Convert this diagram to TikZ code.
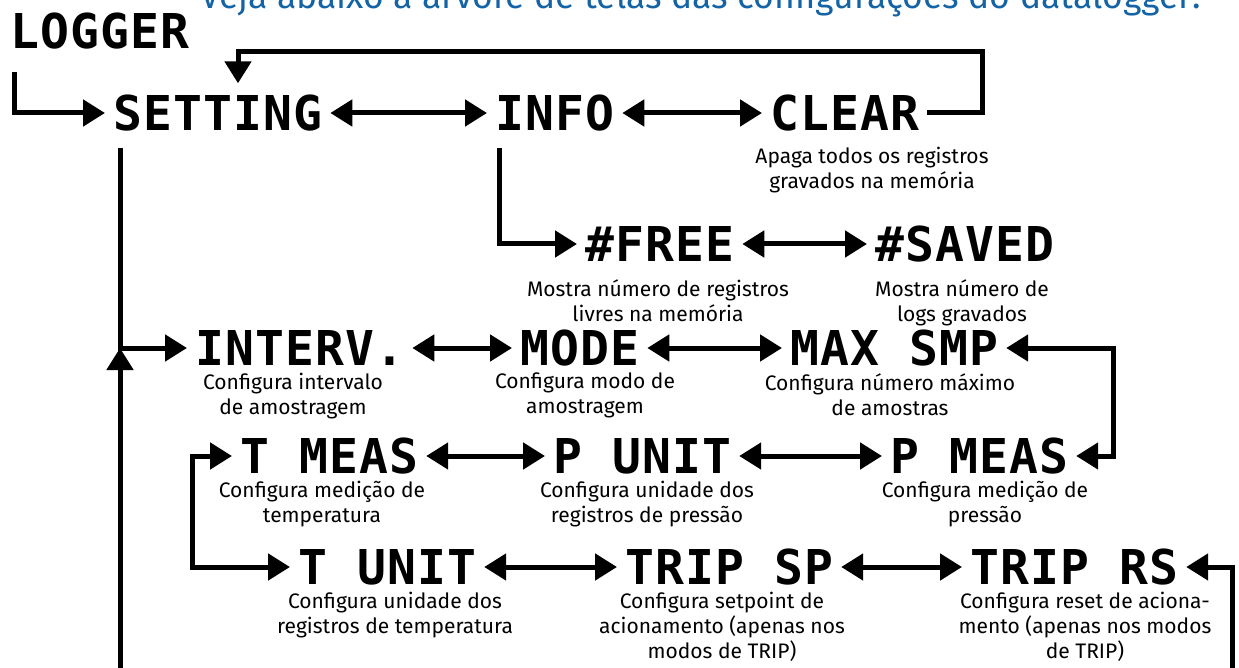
\documentclass[tikz,border=0pt]{standalone}
\usepackage{fontspec}
\usepackage{graphicx}
\setmainfont{Fira Sans}
\newfontfamily\lcdfont[LetterSpace=2.3]{DejaVu Sans Mono Bold}
\usetikzlibrary{arrows.meta}
\definecolor{titleblue}{RGB}{20,100,165}
\tikzset{
  lcd/.style={font=\lcdfont\fontsize{48}{48}\selectfont, inner sep=0pt,
    text height=35pt, text depth=0pt, anchor=west},
  desc/.style={font=\fontsize{21}{25}\selectfont, align=center, inner sep=0pt, anchor=north},
  conn/.style={line width=5pt},
  bigtip/.tip={Triangle[length=22pt,width=26pt]},
  arr/.style={conn, -bigtip, shorten >=8pt},
  dbl/.style={conn, bigtip-bigtip, shorten >=8pt, shorten <=8pt},
}
\begin{document}
\begin{tikzpicture}[x=1pt,y=-1pt]
\useasboundingbox (0,0) rectangle (1239,668);
\clip (0,0) rectangle (1239,668);
\node[anchor=base west, font=\fontsize{35.5}{40}\selectfont, text=titleblue, inner sep=0pt] (title) at (200,9)
  {Veja abaixo a árvore de telas das configurações do datalogger:};

% LCD screens
\node[lcd] (logger)  at (10,31)   {LOGGER};
\node[lcd] (setting) at (113,113) {SETTING};
\node[lcd] (info)    at (495,113) {INFO};
\node[lcd] (clear)   at (770,113) {CLEAR};
\node[lcd] (free)    at (585,244) {\#FREE};
\node[lcd] (saved)   at (875,244) {\#SAVED};
\node[lcd] (interv)  at (195,348) {INTERV.};
\node[lcd] (mode)    at (520,348) {MODE};
\node[lcd] (maxsmp)  at (790,348) {MAX SMP};
\node[lcd] (tmeas)   at (240,456) {T MEAS};
\node[lcd] (punit)   at (553,456) {P UNIT};
\node[lcd] (pmeas)   at (890,456) {P MEAS};
\node[lcd] (tunit)   at (298,567) {T UNIT};
\node[lcd] (tripsp)  at (625,567) {TRIP SP};
\node[lcd] (triprs)  at (970,567) {TRIP RS};

% captions
\node[desc] (c-clear)  at (872,147) {Apaga todos os registros\\gravados na memória};
\node[desc] (c-free)   at (658,279) {Mostra número de registros\\livres na memória};
\node[desc] (c-saved)  at (962,279) {Mostra número de\\logs gravados};
\node[desc] (c-interv) at (293,373) {Configura intervalo\\de amostragem};
\node[desc] (c-mode)   at (585,373) {Configura modo de\\amostragem};
\node[desc] (c-maxsmp) at (890,373) {Configura número máximo\\de amostras};
\node[desc] (c-tmeas)  at (322,481) {Configura medição de\\temperatura};
\node[desc] (c-punit)  at (647,481) {Configura unidade dos\\registros de pressão};
\node[desc] (c-pmeas)  at (985,481) {Configura medição de\\pressão};
\node[desc] (c-tunit)  at (395,592) {Configura unidade dos\\registros de temperatura};
\node[desc] (c-tripsp) at (722,592) {Configura setpoint de\\acionamento (apenas nos\\modos de TRIP)};
\node[desc] (c-triprs) at (1085,592) {Configura reset de aciona-\\mento (apenas nos modos\\de TRIP)};

% helper coordinates
\coordinate (lgstart)  at (14,72);
\coordinate (loopc)    at (982,52);
\coordinate (setx)     at (238,0);
\coordinate (setdown)  at (120,148);
\coordinate (infodown) at (499,148);
\coordinate (rx)       at (1113,0);
\coordinate (lx)       at (192,0);
\coordinate (botL)     at (120,700);
\coordinate (botR)     at (1232,700);

% connectors
\draw[arr] (lgstart) |- (setting.west);
\draw[dbl] (setting.east) -- (info.west);
\draw[dbl] (info.east) -- (clear.west);
\draw[arr, shorten <=8pt, shorten >=12pt] (clear.east) -| (loopc) -| (setting.north -| setx);
\draw[arr] (infodown) |- (free.west);
\draw[dbl] (free.east) -- (saved.west);
\draw[arr] (setdown) |- (interv.west);
\draw[dbl, shorten <=0pt] (setdown |- interv.west) -- (botL) -- (botR) |- (triprs.east);
\draw[dbl] (interv.east) -- (mode.west);
\draw[dbl] (mode.east) -- (maxsmp.west);
\draw[dbl] (maxsmp.east) -- (maxsmp.east -| rx) -- (pmeas.east -| rx) -- (pmeas.east);
\draw[dbl] (tmeas.east) -- (punit.west);
\draw[dbl] (punit.east) -- (pmeas.west);
\draw[dbl] (tmeas.west) -- (tmeas.west -| lx) -- (tunit.west -| lx) -- (tunit.west);
\draw[dbl] (tunit.east) -- (tripsp.west);
\draw[dbl] (tripsp.east) -- (triprs.west);
\end{tikzpicture}
\end{document}
